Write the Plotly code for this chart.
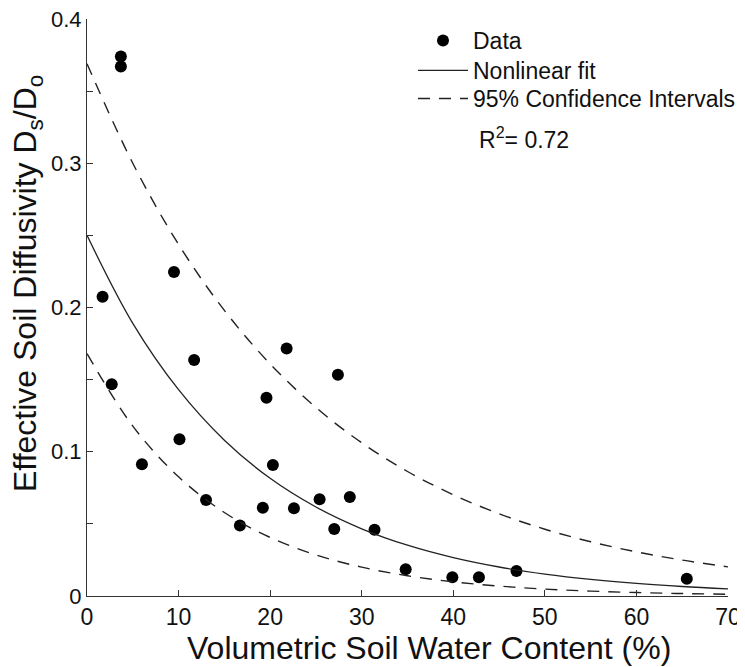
import plotly.graph_objects as go

# Data points
water = [3.7, 3.7, 1.7, 9.5, 11.7, 2.7, 10.1, 6.0, 13.0, 16.7, 19.6, 20.3, 19.2, 22.6,
         21.8, 27.4, 25.4, 28.7, 27.0, 31.4, 34.8, 39.9, 42.8, 46.9, 65.5]
diffusivity = [0.374, 0.367, 0.2075, 0.2246, 0.1636, 0.1468, 0.1086, 0.0913, 0.0666, 0.0488,
               0.1375, 0.0908, 0.0612, 0.0608, 0.1715, 0.1534, 0.067, 0.0686, 0.0464, 0.046,
               0.0185, 0.013, 0.013, 0.0173, 0.012]

# Curves
curve_x = [0, 5, 10, 15, 20, 25, 30, 35, 40, 45, 50, 55, 60, 65, 70]
fit_y = [0.250, 0.189, 0.143, 0.108, 0.0816, 0.0617, 0.0466, 0.0352, 0.0266, 0.0201,
         0.0152, 0.0115, 0.0087, 0.0066, 0.0050]
upper_y = [0.369, 0.300, 0.2437, 0.198, 0.1609, 0.1307, 0.1062, 0.0863, 0.0702, 0.0570,
           0.0463, 0.0376, 0.0306, 0.0249, 0.0202]
lower_y = [0.168, 0.1178, 0.0826, 0.0579, 0.0406, 0.0285, 0.0200, 0.0140, 0.0098, 0.0069,
           0.0048, 0.0034, 0.0024, 0.0017, 0.0012]

x_ticks = [0, 10, 20, 30, 40, 50, 60, 70]
y_ticks = [0, 0.1, 0.2, 0.3, 0.4]
y_tick_labels = ["0", "0.1", "0.2", "0.3", "0.4"]

FONT = "Liberation Sans, Arial, Helvetica, sans-serif"
dash = "12px,9px"

# page body has an 8px margin; figure sized to fit the 745x667 window
OFF = 8
W, H = 745 - OFF, 667 - OFF
L, T = 87 - OFF, 19 - OFF
R = W - (728 - OFF)
B = H - (596 - OFF)
PW, PH = W - L - R, H - T - B


def px_x(sx):
    return (sx - OFF - L) / PW


def px_y(sy):
    return (T + PH - (sy - OFF)) / PH


fig = go.Figure()
fig.add_trace(go.Scatter(x=water, y=diffusivity, mode="markers", name="Data",
                         marker=dict(color="black", size=12), cliponaxis=False,
                         legend="legend"))
fig.add_trace(go.Scatter(x=curve_x, y=fit_y, mode="lines", name="Nonlinear fit",
                         line=dict(color="#222", width=1.3, shape="spline"),
                         legend="legend2"))
fig.add_trace(go.Scatter(x=curve_x, y=upper_y, mode="lines", name="95% Confidence Intervals",
                         line=dict(color="#222", width=1.4, dash=dash, shape="spline"),
                         legend="legend3"))
fig.add_trace(go.Scatter(x=curve_x, y=lower_y, mode="lines", name="95% Confidence Intervals",
                         showlegend=False,
                         line=dict(color="#222", width=1.4, dash=dash, shape="spline"),
                         legend="legend3"))

leg_common = dict(xanchor="left", yanchor="top", bgcolor="rgba(0,0,0,0)",
                  font=dict(size=23), itemwidth=50, tracegroupgap=0)

fig.update_layout(
    width=W, height=H,
    margin=dict(l=L, r=R, t=T, b=B, autoexpand=False),
    plot_bgcolor="white", paper_bgcolor="white",
    font=dict(family=FONT, color="#111", size=22),
    showlegend=True,
    legend=dict(x=px_x(413), y=px_y(19), **leg_common),
    legend2=dict(x=px_x(413), y=px_y(49), **leg_common),
    legend3=dict(x=px_x(413), y=px_y(77), **leg_common),
    xaxis=dict(range=[0, 70], tickvals=x_ticks, ticks="inside", ticklen=6, tickcolor="#333",
               showline=True, linecolor="#333", linewidth=1.2, showgrid=False, zeroline=False,
               tickfont=dict(size=23), automargin=False, ticklabeloverflow="allow"),
    yaxis=dict(range=[0, 0.4], tickvals=y_ticks, ticktext=y_tick_labels, ticks="inside", ticklen=6,
               tickcolor="#333",
               minor=dict(dtick=0.05, ticks="inside", ticklen=6, tickcolor="#333"),
               showline=True, linecolor="#333", linewidth=1.2, showgrid=False, zeroline=False,
               tickfont=dict(size=22), automargin=False, ticklabeloverflow="allow"),
    annotations=[
        dict(x=px_x(477), y=px_y(138), xref="paper", yref="paper", text="R<sup>2</sup>= 0.72",
             showarrow=False, xanchor="left", yanchor="middle", font=dict(size=23)),
        dict(x=px_x(429), y=px_y(648), xref="paper", yref="paper",
             text="Volumetric Soil Water Content (%)", showarrow=False,
             xanchor="center", yanchor="middle", font=dict(size=32)),
        dict(x=px_x(27), y=px_y(284), xref="paper", yref="paper",
             text="Effective Soil Diffusivity D<sub>s</sub>/D<sub>o</sub>", showarrow=False,
             textangle=-90, xanchor="center", yanchor="middle", font=dict(size=32)),
    ],
)

fig.write_html("out.html")
